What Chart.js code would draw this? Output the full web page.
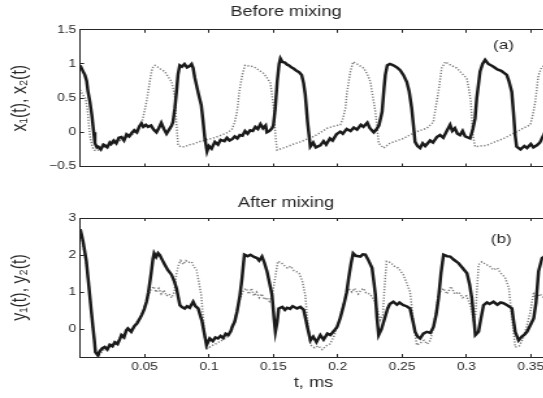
<!DOCTYPE html>
<html>
<head>
<meta charset="utf-8">
<script src="https://cdn.jsdelivr.net/npm/chart.js@4.4.0/dist/chart.umd.min.js"></script>
<style>
  html, body { margin: 0; padding: 0; background: #fff; overflow: hidden; }
  canvas { position: absolute; left: 0; }
</style>
</head>
<body>
<!-- the source figure is wider than its text, so both canvases are stretched sideways (inline style, kept by Chart.js) -->
<canvas id="sopra" width="440" height="188" style="top:0px; width:572px; height:188px;"></canvas>
<canvas id="sotto" width="440" height="210" style="top:188px; width:572px; height:210px;"></canvas>
<script>
// tick values shared by both panels (time in ms)
var tempoTicks = [0, 0.05, 0.1, 0.15, 0.2, 0.25, 0.3, 0.35];
var tempoMax = 0.382;

var ticksSopra = [-0.5, 0, 0.5, 1, 1.5];
var ticksSotto = [0, 1, 2, 3];

// (a) before mixing: x1 solid, x2 dotted  -> [t, value]
var x1 = [
  [0, 0.98], [0.002, 0.9], [0.0036, 0.84], [0.005, 0.75], [0.006, 0.6], [0.0075, 0.45], [0.009, 0.25],
  [0.0105, 0.0], [0.0114, -0.16], [0.013, -0.22], [0.014, -0.21], [0.016, -0.25], [0.018, -0.18],
  [0.019, -0.19], [0.021, -0.22], [0.023, -0.15], [0.024, -0.17], [0.026, -0.12], [0.028, -0.16],
  [0.030, -0.08], [0.032, -0.07], [0.034, -0.12], [0.036, -0.03], [0.038, -0.06], [0.040, -0.01],
  [0.042, 0.03], [0.044, 0.0], [0.046, 0.09], [0.0475, 0.13], [0.049, 0.08], [0.051, 0.11],
  [0.0527, 0.08], [0.055, 0.1], [0.057, 0.04], [0.0592, 0.0], [0.061, 0.06], [0.063, 0.14],
  [0.065, 0.05], [0.067, -0.02], [0.069, 0.04], [0.071, 0.1], [0.072, 0.15], [0.0735, 0.35],
  [0.0748, 0.6], [0.076, 0.85], [0.0773, 0.98], [0.079, 0.96], [0.081, 1.0], [0.083, 0.95],
  [0.085, 0.97], [0.0865, 1.0], [0.0877, 0.94], [0.089, 0.8], [0.0903, 0.69], [0.092, 0.55],
  [0.094, 0.4], [0.0955, 0.15], [0.0968, -0.09], [0.0985, -0.28], [0.100, -0.2], [0.102, -0.24],
  [0.1046, -0.14], [0.107, -0.18], [0.109, -0.11], [0.112, -0.13], [0.114, -0.08], [0.116, -0.12],
  [0.118, -0.1], [0.120, -0.06], [0.122, -0.09], [0.124, -0.04], [0.126, -0.05], [0.128, 0.02],
  [0.130, -0.02], [0.132, 0.03], [0.134, 0.02], [0.136, 0.08], [0.138, 0.05], [0.140, 0.12],
  [0.142, 0.06], [0.144, 0.1], [0.145, 0.0], [0.147, 0.02], [0.149, 0.06], [0.150, 0.1],
  [0.1515, 0.35], [0.153, 0.74], [0.1545, 1.0], [0.1555, 1.08], [0.157, 1.03], [0.159, 1.02],
  [0.1607, 0.99], [0.162, 0.98], [0.164, 0.95], [0.166, 0.93], [0.168, 0.9], [0.170, 0.88],
  [0.172, 0.84], [0.1735, 0.72], [0.1748, 0.55], [0.1766, 0.15], [0.1787, -0.21], [0.181, -0.15],
  [0.183, -0.22], [0.1865, -0.19], [0.189, -0.13], [0.191, -0.18], [0.194, -0.09], [0.196, -0.12],
  [0.199, -0.03], [0.202, 0.01], [0.204, -0.02], [0.207, 0.05], [0.210, 0.02], [0.2125, 0.07],
  [0.215, 0.04], [0.218, 0.11], [0.220, 0.08], [0.223, 0.14], [0.225, 0.06], [0.228, 0.0],
  [0.230, 0.04], [0.232, 0.1], [0.2345, 0.3], [0.236, 0.65], [0.237, 0.84], [0.2385, 0.98],
  [0.2406, 1.0], [0.2432, 0.98], [0.246, 0.95], [0.2485, 0.91], [0.251, 0.84], [0.2536, 0.74],
  [0.2555, 0.6], [0.2575, 0.35], [0.2601, -0.14], [0.262, -0.2], [0.264, -0.23], [0.266, -0.16],
  [0.268, -0.2], [0.2718, -0.12], [0.274, -0.15], [0.277, -0.07], [0.2795, -0.04], [0.282, -0.08],
  [0.285, 0.03], [0.2873, 0.11], [0.289, 0.02], [0.291, 0.06], [0.293, -0.02], [0.295, -0.04],
  [0.297, 0.02], [0.299, -0.06], [0.3028, -0.09], [0.305, 0.05], [0.3067, 0.2], [0.308, 0.5],
  [0.3106, 0.89], [0.3125, 1.0], [0.3145, 1.06], [0.317, 1.0], [0.319, 0.98], [0.321, 0.96],
  [0.324, 0.92], [0.327, 0.9], [0.3313, 0.84], [0.333, 0.75], [0.3352, 0.59], [0.3365, 0.3],
  [0.3378, -0.04], [0.339, -0.21], [0.342, -0.25], [0.345, -0.2], [0.347, -0.23], [0.350, -0.17],
  [0.352, -0.22], [0.3547, -0.19], [0.357, -0.15], [0.3586, -0.09], [0.361, 0.0], [0.366, 0.05]
];

var x2 = [
  [0, 0.62], [0.002, 0.55], [0.004, 0.5], [0.0055, 0.35], [0.007, 0.05], [0.008, -0.1], [0.0095, -0.22],
  [0.011, -0.26], [0.013, -0.27], [0.016, -0.24], [0.02, -0.2], [0.025, -0.17], [0.03, -0.13],
  [0.035, -0.08], [0.04, -0.04], [0.044, 0.02], [0.047, 0.1], [0.048, 0.15], [0.0498, 0.3],
  [0.0515, 0.45], [0.053, 0.62], [0.054, 0.74], [0.0555, 0.9], [0.0566, 0.96], [0.058, 0.98],
  [0.0592, 0.97], [0.062, 0.93], [0.0657, 0.89], [0.068, 0.82], [0.071, 0.74], [0.0725, 0.62],
  [0.0736, 0.5], [0.0748, 0.11], [0.076, -0.19], [0.078, -0.21], [0.0814, -0.21], [0.085, -0.18],
  [0.088, -0.17], [0.092, -0.14], [0.096, -0.12], [0.1, -0.1], [0.104, -0.08], [0.107, -0.06],
  [0.111, -0.03], [0.115, 0.0], [0.118, 0.05], [0.12, 0.15], [0.1218, 0.3], [0.123, 0.5],
  [0.1244, 0.69], [0.126, 0.85], [0.128, 0.98], [0.131, 0.97], [0.1347, 0.96], [0.138, 0.92],
  [0.1425, 0.86], [0.145, 0.8], [0.1477, 0.72], [0.149, 0.55], [0.1503, 0.35], [0.1516, -0.04],
  [0.1529, -0.26], [0.156, -0.24], [0.1607, -0.21], [0.166, -0.17], [0.171, -0.14], [0.176, -0.1],
  [0.1814, -0.06], [0.186, -0.01], [0.1918, 0.06], [0.197, 0.09], [0.202, 0.11], [0.204, 0.2],
  [0.206, 0.35], [0.207, 0.55], [0.2085, 0.74], [0.210, 0.9], [0.212, 1.03], [0.215, 1.0],
  [0.2202, 0.94], [0.223, 0.85], [0.2254, 0.74], [0.227, 0.55], [0.2293, 0.3], [0.2318, -0.16],
  [0.2357, -0.23], [0.2406, -0.16], [0.245, -0.13], [0.251, -0.09], [0.256, -0.04], [0.2614, 0.01],
  [0.2692, 0.06], [0.2743, 0.15], [0.276, 0.35], [0.2782, 0.59], [0.2808, 0.94], [0.2835, 1.03],
  [0.288, 0.98], [0.2925, 0.94], [0.296, 0.87], [0.3003, 0.79], [0.302, 0.62], [0.3034, 0.45],
  [0.305, -0.04], [0.3067, -0.21], [0.311, -0.2], [0.316, -0.19], [0.322, -0.14], [0.329, -0.09],
  [0.334, -0.04], [0.3393, 0.01], [0.344, 0.06], [0.3496, 0.11], [0.3515, 0.25], [0.3535, 0.45],
  [0.355, 0.7], [0.356, 0.84], [0.3586, 0.96], [0.362, 0.98], [0.366, 0.95]
];

// (b) after mixing: y1 solid, y2 dotted
var y1 = [
  [0, 2.7], [0.0004, 2.64], [0.0022, 2.37], [0.0035, 2.1], [0.0048, 1.83], [0.006, 1.4], [0.0074, 0.92],
  [0.0087, 0.45], [0.010, 0.02], [0.011, -0.3], [0.0118, -0.62], [0.0138, -0.71], [0.015, -0.6],
  [0.017, -0.52], [0.019, -0.48], [0.021, -0.55], [0.023, -0.42], [0.025, -0.46], [0.0268, -0.35],
  [0.029, -0.4], [0.031, -0.25], [0.032, -0.16], [0.034, -0.22], [0.0358, -0.03], [0.037, 0.02],
  [0.0396, -0.07], [0.042, 0.08], [0.044, 0.15], [0.0463, 0.29], [0.048, 0.4], [0.0498, 0.55],
  [0.0515, 0.74], [0.053, 1.0], [0.0553, 1.56], [0.0565, 1.9], [0.0574, 2.05], [0.059, 1.95],
  [0.0605, 2.05], [0.0618, 2.0], [0.064, 1.85], [0.0657, 1.74], [0.068, 1.6], [0.0709, 1.47],
  [0.073, 1.3], [0.0748, 1.1], [0.0774, 0.65], [0.079, 0.6], [0.0812, 0.56], [0.083, 0.62],
  [0.085, 0.58], [0.0877, 0.74], [0.0895, 0.62], [0.0916, 0.56], [0.0947, 0.2], [0.0981, -0.43],
  [0.1006, -0.25], [0.103, -0.32], [0.105, -0.22], [0.107, -0.25], [0.109, -0.18], [0.111, -0.24],
  [0.113, -0.12], [0.115, -0.16], [0.117, -0.05], [0.118, 0.06], [0.120, 0.2], [0.1218, 0.47],
  [0.124, 0.9], [0.1257, 1.38], [0.1275, 2.01], [0.130, 1.97], [0.1322, 2.01], [0.135, 1.95],
  [0.1373, 1.92], [0.139, 1.85], [0.1412, 1.96], [0.143, 1.8], [0.1451, 1.56], [0.147, 1.25],
  [0.149, 0.92], [0.1505, 0.3], [0.1516, -0.07], [0.153, 0.2], [0.1542, 0.56], [0.157, 0.6],
  [0.159, 0.52], [0.1607, 0.58], [0.163, 0.55], [0.165, 0.62], [0.1684, 0.56], [0.171, 0.6],
  [0.1736, 0.52], [0.1767, 0.02], [0.1788, -0.3], [0.181, -0.2], [0.1835, -0.35], [0.1865, -0.16],
  [0.189, -0.28], [0.192, -0.12], [0.1943, -0.16], [0.197, -0.05], [0.1995, 0.06], [0.202, 0.3],
  [0.2047, 0.65], [0.207, 1.0], [0.2085, 1.38], [0.2105, 1.8], [0.212, 2.05], [0.214, 1.98],
  [0.2176, 1.96], [0.2195, 2.02], [0.2215, 2.01], [0.224, 1.85], [0.2267, 1.65], [0.228, 1.3],
  [0.2293, 0.92], [0.2305, 0.3], [0.2318, -0.16], [0.234, 0.0], [0.2357, 0.2], [0.2388, 0.56],
  [0.2405, 0.68], [0.2432, 0.74], [0.246, 0.66], [0.248, 0.72], [0.251, 0.65], [0.2535, 0.62],
  [0.2562, 0.56], [0.2585, 0.2], [0.2601, -0.07], [0.262, -0.2], [0.264, -0.25], [0.2665, -0.12],
  [0.2692, -0.07], [0.272, -0.1], [0.2744, 0.06], [0.2765, 0.4], [0.2783, 0.83], [0.2802, 1.5],
  [0.2822, 2.01], [0.285, 1.97], [0.2874, 1.96], [0.290, 1.88], [0.2939, 1.78], [0.297, 1.65],
  [0.3004, 1.51], [0.3025, 1.2], [0.3042, 0.83], [0.306, 0.2], [0.3069, -0.16], [0.3094, -0.07],
  [0.3113, 0.3], [0.3133, 0.65], [0.316, 0.72], [0.318, 0.68], [0.321, 0.74], [0.324, 0.66],
  [0.3265, 0.72], [0.3288, 0.7], [0.332, 0.64], [0.3353, 0.56], [0.3365, 0.25], [0.3379, -0.07],
  [0.3405, -0.3], [0.343, -0.2], [0.345, -0.15], [0.347, -0.07], [0.3495, 0.1], [0.3522, 0.29],
  [0.354, 0.7], [0.356, 1.56], [0.3587, 1.92], [0.362, 2.0], [0.366, 1.95]
];

var y2 = [
  [0, 2.7], [0.002, 2.3], [0.0045, 1.8], [0.0075, 0.9], [0.010, 0.0], [0.012, -0.6], [0.014, -0.72],
  [0.017, -0.6], [0.02, -0.5], [0.025, -0.45], [0.03, -0.3], [0.035, -0.1], [0.04, 0.0], [0.045, 0.25],
  [0.049, 0.5], [0.052, 0.8], [0.0545, 1.05], [0.057, 1.15], [0.059, 1.0], [0.061, 1.1], [0.063, 0.95],
  [0.065, 1.05], [0.067, 0.9], [0.069, 0.95], [0.071, 0.85], [0.073, 1.0], [0.0748, 1.5], [0.0765, 1.75],
  [0.078, 1.85], [0.08, 1.75], [0.082, 1.85], [0.084, 1.8], [0.0865, 1.82], [0.088, 1.7], [0.0903, 1.6],
  [0.092, 1.3], [0.094, 0.92], [0.0968, -0.25], [0.099, -0.52], [0.102, -0.45], [0.105, -0.4],
  [0.11, -0.3], [0.115, -0.2], [0.118, 0.0], [0.121, 0.4], [0.124, 0.8], [0.1268, 1.05], [0.129, 1.1],
  [0.131, 0.95], [0.133, 1.1], [0.135, 0.9], [0.137, 1.0], [0.139, 0.85], [0.141, 0.95], [0.143, 0.8],
  [0.145, 0.85], [0.147, 0.75], [0.149, 0.9], [0.151, 1.3], [0.1535, 1.83], [0.156, 1.8], [0.1585, 1.72],
  [0.161, 1.65], [0.1635, 1.7], [0.166, 1.58], [0.168, 1.55], [0.17, 1.51], [0.1725, 1.3], [0.1748, 0.92],
  [0.1766, 0.2], [0.179, -0.43], [0.182, -0.5], [0.185, -0.45], [0.188, -0.55], [0.191, -0.45],
  [0.194, -0.4], [0.197, -0.2], [0.2, 0.1], [0.203, 0.5], [0.206, 0.85], [0.2085, 1.1], [0.211, 1.0],
  [0.213, 1.1], [0.216, 0.95], [0.218, 1.05], [0.22, 1.1], [0.222, 0.98], [0.225, 0.95], [0.228, 0.8],
  [0.231, 0.5], [0.233, 0.25], [0.235, 0.38], [0.2365, 1.2], [0.238, 1.83], [0.241, 1.8], [0.244, 1.7],
  [0.247, 1.65], [0.251, 1.47], [0.2535, 1.25], [0.2562, 1.01], [0.2588, 0.2], [0.2614, -0.43],
  [0.264, -0.38], [0.267, -0.3], [0.2695, -0.4], [0.272, -0.3], [0.274, 0.0], [0.2765, 0.5], [0.278, 0.9],
  [0.2795, 1.0], [0.282, 1.1], [0.285, 0.95], [0.288, 1.15], [0.291, 0.95], [0.294, 1.0], [0.297, 0.85],
  [0.3, 0.9], [0.303, 0.65], [0.3055, 0.25], [0.307, 0.4], [0.3094, 1.74], [0.312, 1.82], [0.315, 1.75],
  [0.318, 1.7], [0.321, 1.6], [0.324, 1.65], [0.327, 1.5], [0.33, 1.4], [0.333, 1.1], [0.3353, 0.3],
  [0.3379, -0.48], [0.341, -0.45], [0.344, -0.25], [0.347, 0.1], [0.3495, 0.45], [0.3522, 1.0],
  [0.354, 0.8], [0.357, 0.95], [0.36, 0.85], [0.366, 0.9]
];

var carattere = "'Liberation Sans', Arial, sans-serif";
var inchiostro = '#262626';

function toXY(coppie) {
  return coppie.map(function (p) { return { x: p[0], y: p[1] }; });
}

function fissaTicks(valori) {
  return function (scale) {
    scale.ticks = valori.map(function (v) { return { value: v }; });
  };
}

// grid only used for the small inward tick marks
var tacche = { drawOnChartArea: false, drawTicks: true, tickLength: -3, color: inchiostro, lineWidth: 1 };
var bordo = { display: true, color: inchiostro, width: 1 };

function pannello(id, cfg) {
  var ctx = document.getElementById(id).getContext('2d');

  // "(a)" / "(b)" tag inside the plot
  var etichetta = {
    id: 'etichetta_' + id,
    afterDatasetsDraw: function (chart) {
      var c = chart.ctx;
      c.save();
      c.fillStyle = inchiostro;
      c.font = '13px ' + carattere;
      c.textAlign = 'center';
      c.textBaseline = 'middle';
      c.fillText(cfg.tag, chart.scales.x.getPixelForValue(cfg.tagT), chart.scales.y.getPixelForValue(cfg.tagV));
      c.restore();
    }
  };

  return new Chart(ctx, {
    type: 'line',
    data: {
      datasets: [
        { data: toXY(cfg.solida), borderColor: '#1a1a1a', borderWidth: 2.5, pointRadius: 0, tension: 0 },
        { data: toXY(cfg.punteggiata), borderColor: '#7a7a7a', borderWidth: 1.5, borderDash: [1.2, 1.6], pointRadius: 0, tension: 0 }
      ]
    },
    options: {
      responsive: false,
      animation: false,
      devicePixelRatio: 1,
      layout: { padding: 0 },
      plugins: {
        legend: { display: false },
        tooltip: { enabled: false },
        title: {
          display: true,
          text: cfg.titolo,
          color: inchiostro,
          font: { family: carattere, size: 14, weight: 'normal' },
          padding: cfg.titoloPad
        }
      },
      scales: {
        x: {
          type: 'linear',
          position: 'bottom',
          min: 0,
          max: tempoMax,
          afterBuildTicks: fissaTicks(tempoTicks),
          afterFit: function (s) { s.height = cfg.altezzaX; },
          ticks: {
            display: cfg.conTempo,
            color: inchiostro,
            padding: 7.2,
            font: { family: carattere, size: 10.5 },
            callback: function (v) { return (v === 0) ? '' : String(v); }
          },
          grid: tacche,
          border: bordo,
          title: {
            display: cfg.conTempo,
            text: 't, ms     ',
            color: inchiostro,
            font: { family: carattere, size: 14 },
            padding: { top: 0, bottom: 6.9 }
          }
        },
        xSopra: {
          type: 'linear',
          position: 'top',
          min: 0,
          max: tempoMax,
          afterBuildTicks: fissaTicks(tempoTicks),
          afterFit: function (s) { s.height = 0; },
          ticks: { display: false },
          grid: tacche,
          border: bordo
        },
        y: {
          min: cfg.yMin,
          max: cfg.yMax,
          afterBuildTicks: fissaTicks(cfg.yTicks),
          afterFit: function (s) { s.width = 61.7; },
          ticks: {
            color: inchiostro,
            padding: 6.2,
            font: { family: carattere, size: 10.5 },
            callback: function (v) { return String(v).replace('-', '\u2212'); }
          },
          grid: tacche,
          border: bordo,
          title: {
            display: true,
            text: cfg.yTitolo,
            color: inchiostro,
            font: { family: carattere, size: 16 },
            padding: { top: 6, bottom: 0 }
          }
        }
      }
    },
    plugins: [etichetta]
  });
}

pannello('sopra', {
  titolo: 'Before mixing',
  titoloPad: { top: 3.4, bottom: 9.6 },
  yTitolo: 'x\u2081(t), x\u2082(t)',
  yMin: -0.5, yMax: 1.5, yTicks: ticksSopra,
  solida: x1, punteggiata: x2,
  conTempo: false, altezzaX: 21.5,
  tag: '(a)', tagT: 0.3288, tagV: 1.276
});

pannello('sotto', {
  titolo: 'After mixing',
  titoloPad: { top: 6.6, bottom: 6.6 },
  yTitolo: 'y\u2081(t), y\u2082(t)',
  yMin: -0.75, yMax: 3, yTicks: ticksSotto,
  solida: y1, punteggiata: y2,
  conTempo: true, altezzaX: 41,
  tag: '(b)', tagT: 0.327, tagV: 2.43
});
</script>
</body>
</html>
